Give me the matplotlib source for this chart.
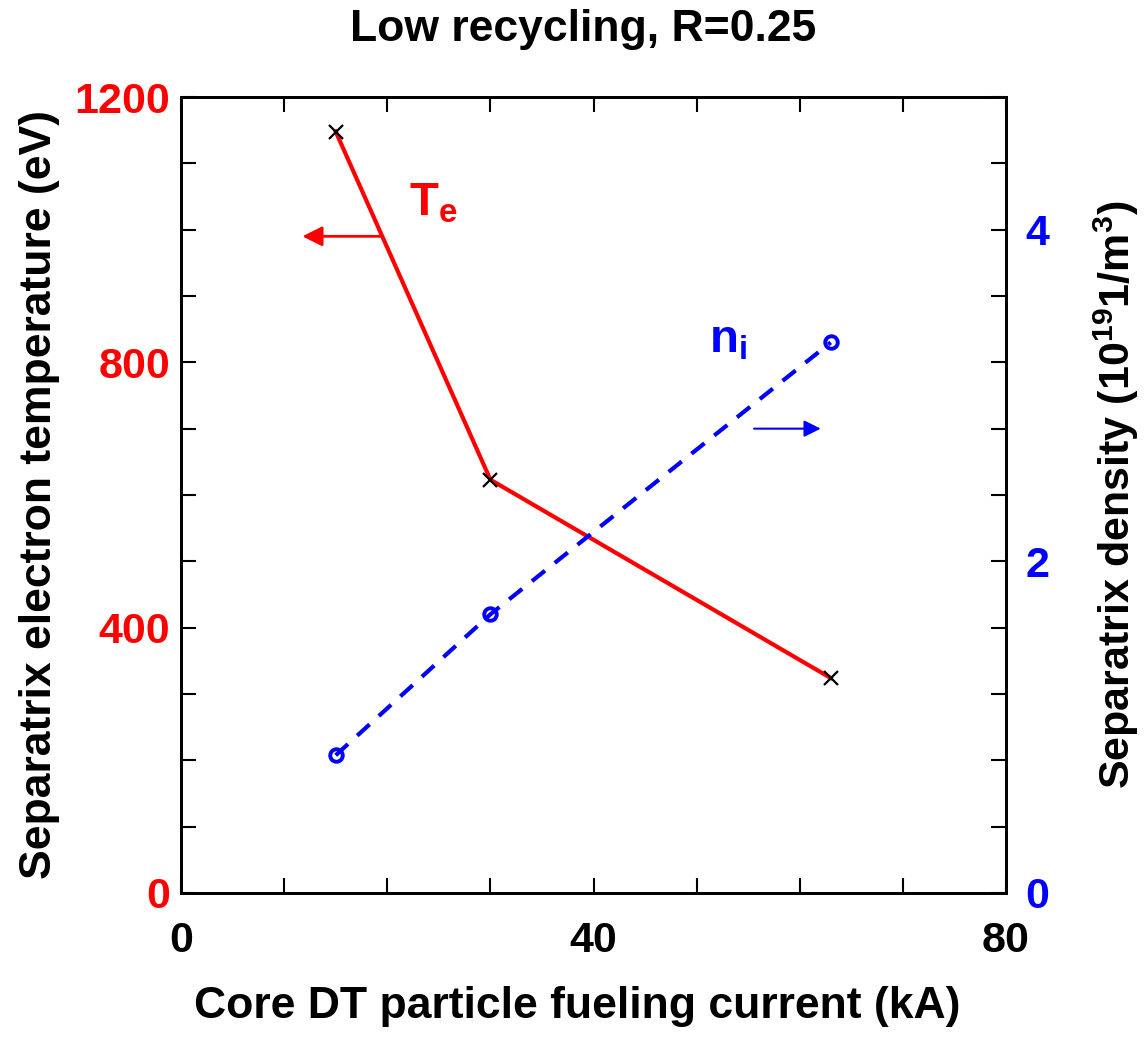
import matplotlib
matplotlib.use("Agg")
import matplotlib.pyplot as plt
from matplotlib.ticker import MultipleLocator

plt.rcParams['font.family'] = ['Liberation Sans', 'DejaVu Sans']
plt.rcParams['font.weight'] = 'bold'
plt.rcParams['mathtext.fontset'] = 'custom'
plt.rcParams['mathtext.rm'] = 'Liberation Sans:bold'
plt.rcParams['mathtext.bf'] = 'Liberation Sans:bold'

# fueling current (kA)
fuel = [15, 30, 63]
# separatrix electron temperature (eV)
te = [1148, 623, 324]
# separatrix ion density (1e19 / m^3)
ni = [0.83, 1.68, 3.32]

fig = plt.figure(figsize=(11.47, 10.48), dpi=100)
ax = fig.add_axes([0.1578, 0.148, 0.7193, 0.7594])
ax2 = ax.twinx()

ax.plot(fuel, te, color='red', lw=3, zorder=3)
ax.plot(fuel, te, ls='none', marker='x', ms=10, mec='black', mew=1.6, zorder=4)
ax2.plot(fuel, ni, color='blue', lw=3, ls=(0, (4, 3)),
         marker='o', ms=9, mfc='none', mec='blue', mew=2.8)

ax.set_xlim(0, 80)
ax.set_ylim(0, 1200)
ax2.set_ylim(0, 4.8)

ax.xaxis.set_major_locator(MultipleLocator(40))
ax.xaxis.set_minor_locator(MultipleLocator(10))
ax.yaxis.set_major_locator(MultipleLocator(400))
ax.yaxis.set_minor_locator(MultipleLocator(100))
ax2.yaxis.set_major_locator(MultipleLocator(2))
ax2.yaxis.set_minor_locator(MultipleLocator(0.4))

for a in (ax, ax2):
    for s in a.spines.values():
        s.set_linewidth(2)
ax.tick_params(axis='x', which='both', direction='in', top=True, length=11, width=1.5,
               labelsize=31, pad=20)
ax.tick_params(axis='y', which='both', direction='in', length=11, width=1.5,
               labelsize=31, labelcolor='red', pad=8)
ax2.tick_params(axis='y', which='both', direction='in', length=11, width=1.5,
                labelsize=31, labelcolor='blue', pad=14)

ax.set_xlabel('Core DT particle fueling current (kA)', fontsize=32, fontweight='bold', labelpad=18)
ax.xaxis.label.set_x(0.48)
ax.set_ylabel('Separatrix electron temperature (eV)', fontsize=32, fontweight='bold', labelpad=10)
ax2.set_ylabel(r'Separatrix density (10$^{\mathbf{19}}$1/m$^{\mathbf{3}}$)', fontsize=31,
               fontweight='bold', labelpad=30)
ax.set_title('Low recycling, R=0.25', fontsize=32, fontweight='bold', pad=40)
ax.title.set_x(0.487)

# series labels with arrows pointing to their axes
ax.text(24.5, 1040, r'T$_{\mathbf{e}}$', color='red', fontsize=34, fontweight='bold',
        ha='center', va='center')
ax2.text(53, 3.33, r'n$_{\mathbf{i}}$', color='blue', fontsize=34, fontweight='bold',
         ha='center', va='center')
ax.annotate('', xy=(11.5, 990), xytext=(19.6, 990),
            arrowprops=dict(arrowstyle='-|>', color='red', lw=2, mutation_scale=30))
ax2.annotate('', xy=(62.3, 2.8), xytext=(55.3, 2.8),
             arrowprops=dict(arrowstyle='-|>', color='blue', lw=1.5, mutation_scale=25))

fig.savefig('out.png', dpi=100)
